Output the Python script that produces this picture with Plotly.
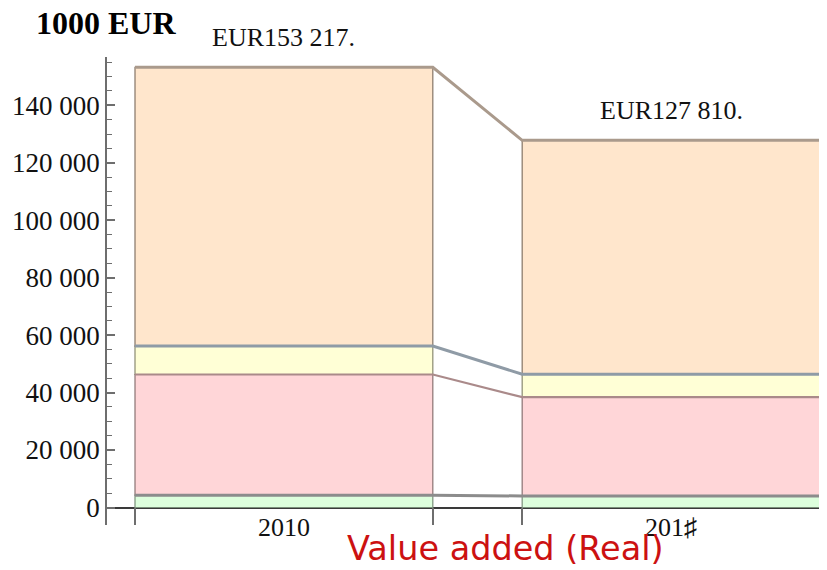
import plotly.graph_objects as go

# ---- data ----
years = ["2010", "201\u266f"]
green = [4300, 4000]
pink = [42000, 34400]
yellow = [9900, 8000]
orange = [97017, 81410]
y_ticks = [0, 20000, 40000, 60000, 80000, 100000, 120000, 140000]
unit_label = "1000 EUR"
x_title = "Value added (Real)"

series = [
    ("green", green, "#DDFFDD", "#8c8c8c", "#7a907a", 3),
    ("pink", pink, "#FFD6D8", "#aa8a8a", "#8a7272", 2.2),
    ("yellow", yellow, "#FFFFD6", "#8f9ba6", "#8a8a70", 3),
    ("orange", orange, "#FFE6CC", "#aa9a8c", "#857566", 3),
]

gap = 0.3
width = 1.0
xs = [i * (width + gap) for i in range(len(years))]
totals = [sum(v) for v in zip(green, pink, yellow, orange)]

SERIF = "Liberation Serif, Times New Roman, serif"

fig = go.Figure()
cum = [0] * len(years)
tops = []
for name, vals, fill, topc, sidec, lw in series:
    fig.add_trace(go.Bar(
        x=xs, y=vals, base=cum, width=width, name=name,
        marker=dict(color=fill, line=dict(color=sidec, width=1.2)),
        showlegend=False, hoverinfo="skip",
    ))
    cum = [c + v for c, v in zip(cum, vals)]
    tops.append((list(cum), topc, lw))

# boundary + connecting lines
for cvals, col, lw in tops:
    lx, ly = [], []
    for xc, cv in zip(xs, cvals):
        lx += [xc - width / 2, xc + width / 2]
        ly += [cv, cv]
    fig.add_trace(go.Scatter(x=lx, y=ly, mode="lines",
                             line=dict(color=col, width=lw),
                             showlegend=False, hoverinfo="skip"))

# total labels
for xc, t in zip(xs, totals):
    fig.add_annotation(x=xc, y=t, xref="x", yref="y",
                       text="EUR" + f"{t:,}".replace(",", " ") + ".",
                       showarrow=False, yanchor="bottom", yshift=13,
                       font=dict(family=SERIF, size=26, color="#111"))

edges = []
for xc in xs:
    edges += [xc - width / 2, xc + width / 2]

minor_vals = [v for v in range(5000, 160000, 5000) if v % 20000 != 0]

# page has an 8px body margin: the figure is sized/offset to compensate
fig.update_layout(
    width=819, height=562,
    margin=dict(l=99, r=0, t=49, b=45, autoexpand=False),
    plot_bgcolor="white", paper_bgcolor="white",
    barmode="overlay",
    separators=". ",
    xaxis=dict(
        range=[xs[0] - width / 2 - 0.094, xs[-1] + width / 2 + 0.0235],
        tickmode="array", tickvals=xs, ticktext=years,
        ticks="", showgrid=False, showline=False, zeroline=False,
        automargin=False,
        tickfont=dict(family=SERIF, size=26, color="#111"),
        ticklabelstandoff=-16,
        minor=dict(tickmode="array", tickvals=edges, ticks="inside",
                   ticklen=17, tickcolor="#6e6e6e", tickwidth=1.5),
    ),
    yaxis=dict(
        range=[-6090, 156800],
        tickmode="array", tickvals=y_ticks, tickformat=",d",
        ticks="inside", ticklen=8, tickcolor="#6e6e6e", tickwidth=1.5,
        minor=dict(tickmode="array", tickvals=minor_vals, ticks="inside",
                   ticklen=5, tickcolor="#6e6e6e", tickwidth=1.2),
        showline=True, linecolor="#6e6e6e", linewidth=1.8,
        showgrid=False, automargin=False,
        zeroline=True, zerolinecolor="#3a3a3a", zerolinewidth=2,
        tickfont=dict(family=SERIF, size=27, color="#111"),
        ticklabelstandoff=0,
    ),
)

fig.add_annotation(text="<b>" + unit_label + "</b>", xref="paper", yref="paper",
                   x=-73 / 720, y=1 + (57 - 22.5) / 468,
                   xanchor="left", yanchor="middle", showarrow=False,
                   font=dict(family=SERIF, size=32, color="#000"))

fig.add_annotation(text=x_title, xref="paper", yref="paper",
                   x=(505 - 107) / 720, y=1 - (548 - 57) / 468,
                   xanchor="center", yanchor="middle", showarrow=False,
                   font=dict(family="DejaVu Sans, sans-serif", size=33.5, color="#CC1111"))

fig.write_html("out.html")
